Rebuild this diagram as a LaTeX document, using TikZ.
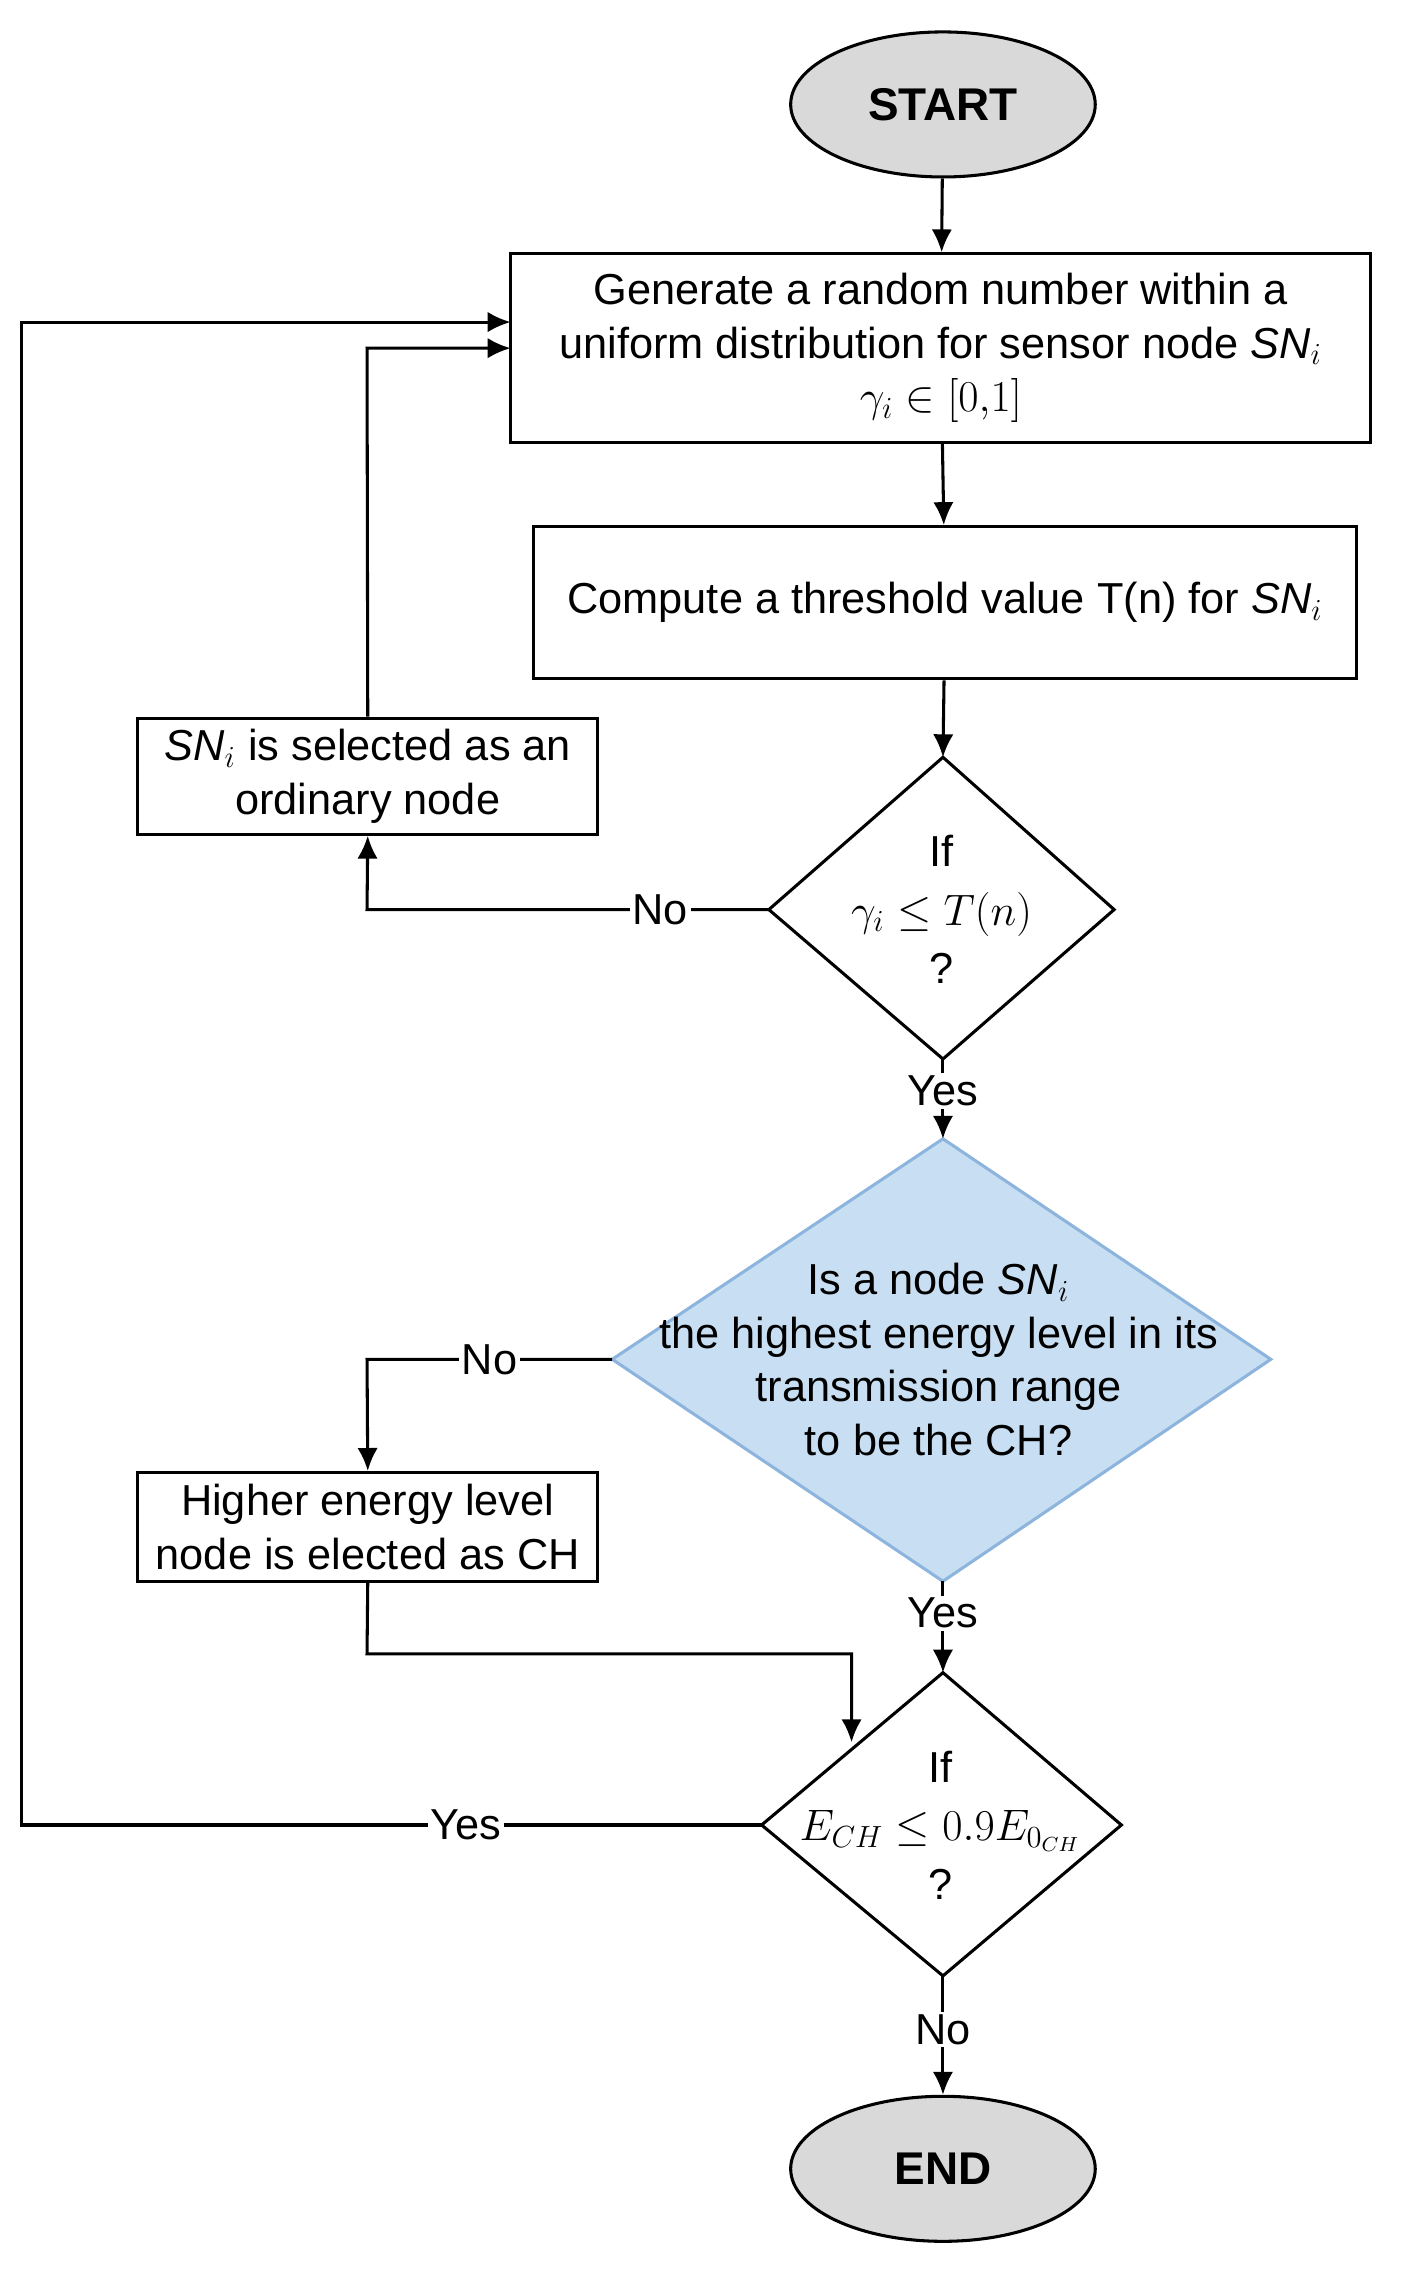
\documentclass[tikz,border=0pt]{standalone}
\usepackage{fontspec}
\setmainfont{Liberation Sans}
\usetikzlibrary{arrows.meta,shapes.geometric}
\begin{document}
\begin{tikzpicture}[x=0.02cm,y=-0.02cm,
  font=\fontsize{17}{21}\selectfont,
  box/.style={draw,line width=1.2pt,inner sep=0pt},
  term/.style={ellipse,draw,line width=1.2pt,fill=gray!30,minimum width=4.2cm,minimum height=2cm,font=\fontsize{18}{21}\selectfont\bfseries},
  dia/.style={draw,line width=1.2pt},
  arr/.style={line width=1.2pt,-{Latex[length=9pt,width=8pt]}},
  ln/.style={line width=1.2pt},
  lab/.style={fill=white,inner sep=1pt}]
\useasboundingbox (0,0) rectangle (966,1582);
\node[term] (start) at (650,72) {START};
\node[term] (end) at (650,1495) {END};
\node[box,minimum width=11.86cm,minimum height=2.6cm,align=center] (b1) at (648.5,240)
  {Generate a random number within a\\uniform distribution for sensor node \textit{SN$_i$}\\$\gamma_i\in[0{,}1]$};
\node[box,minimum width=11.34cm,minimum height=2.1cm] (b2) at (651.5,415.5) {Compute a threshold value T(n) for \textit{SN$_i$}};
\node[box,minimum width=6.34cm,minimum height=1.6cm,align=center] (ord) at (253.5,535) {\textit{SN$_i$} is selected as an\\ordinary node};
\node[box,minimum width=6.34cm,minimum height=1.5cm,align=center] (hi) at (253.5,1052.5) {Higher energy level\\node is elected as CH};
% diamond 1
\coordinate (d1t) at (650,522); \coordinate (d1b) at (650,730);
\coordinate (d1l) at (530,627); \coordinate (d1r) at (768,627);
\draw[dia] (d1t)--(d1r)--(d1b)--(d1l)--cycle;
\node[align=center] (d1) at (649,627) {If\\[2pt]$\gamma_i\le T(n)$\\[2pt]?};
% diamond 2
\coordinate (d2t) at (650,785); \coordinate (d2b) at (650,1090);
\coordinate (d2l) at (422,937); \coordinate (d2r) at (876,937);
\draw[dia,fill={rgb,255:red,200;green,222;blue,242},draw={rgb,255:red,140;green,180;blue,220}] (d2t)--(d2r)--(d2b)--(d2l)--cycle;
\node[align=center] (d2) at (647,937) {Is a node \textit{SN$_i$}\\the highest energy level in its\\transmission range\\to be the CH?};
% diamond 3
\coordinate (d3t) at (650,1153); \coordinate (d3b) at (650,1362);
\coordinate (d3l) at (525,1258); \coordinate (d3r) at (773,1258);
\draw[dia] (d3t)--(d3r)--(d3b)--(d3l)--cycle;
\node[align=center] (d3) at (648,1258) {If\\[2pt]$E_{CH}\le 0.9E_{0_{CH}}$\\[2pt]?};
\coordinate (d3e) at (587,1201);
\coordinate (j1) at (253,627); \coordinate (j2) at (253,240);
\coordinate (j3) at (253,937); \coordinate (j4) at (253,1140); \coordinate (j5) at (587,1140);
\coordinate (j6) at (15,1258); \coordinate (j7) at (15,222); \coordinate (b1a) at (352,222);
\coordinate (b1b) at (352,240);
\draw[arr] (start) -- (b1);
\draw[arr] (b1) -- (b2);
\draw[arr] (b2) -- (d1t);
\draw[arr] (d1l) -- node[lab,pos=0.27]{No} (j1) -- (ord.south);
\draw[arr] (ord.north) -- (j2) -- (b1b);
\draw[arr] (d1b) -- node[lab,pos=0.4]{Yes} (d2t);
\draw[arr] (d2l) -- node[lab,pos=0.5]{No} (j3) -- (hi.north);
\draw[arr] (d2b) -- node[lab,pos=0.35]{Yes} (d3t);
\draw[arr] (hi.south) -- (j4) -- (j5) -- (d3e);
\draw[arr] (d3l) -- node[lab,pos=0.4]{Yes} (j6) -- (j7) -- (b1a);
\draw[arr] (d3b) -- node[lab,pos=0.45]{No} (end);
\end{tikzpicture}
\end{document}
